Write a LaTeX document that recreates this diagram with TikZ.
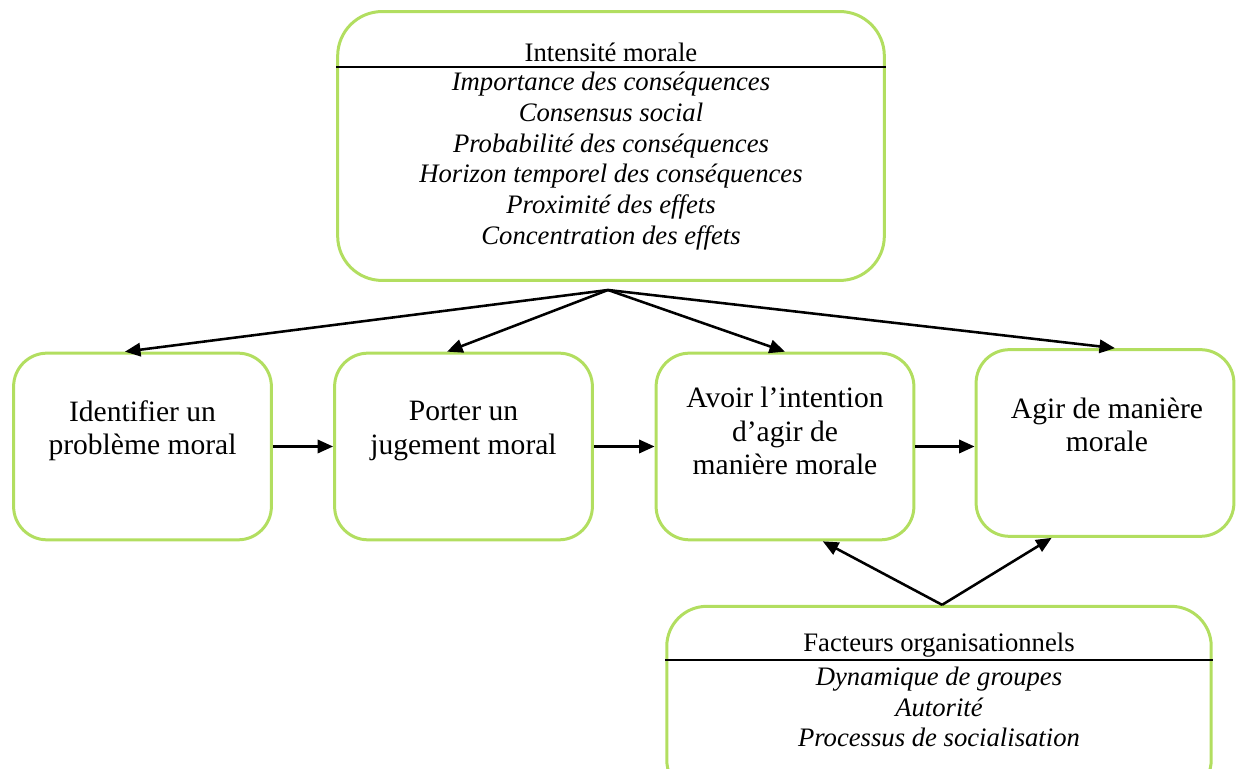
\documentclass[tikz,border=0pt]{standalone}
\usepackage{fontspec}
\setmainfont{Liberation Serif}
\usetikzlibrary{arrows.meta, positioning}
\definecolor{vertclair}{RGB}{178,222,96}

\begin{document}
\begin{tikzpicture}[x=0.45pt, y=-0.45pt, every node/.style={inner sep=0pt, align=center},
            cadre/.style={draw=vertclair, line width=1.35pt, rounded corners=20pt},
            phase/.style={cadre, minimum width=116pt, minimum height=84pt, rounded corners=15pt},
            titre/.style={font=\fontsize{12}{13.8}\selectfont},
            liste/.style={font=\fontsize{12}{13.8}\selectfont\itshape},
            etape/.style={font=\fontsize{13.3}{14.9}\selectfont},
            fleche/.style={-{Triangle[length=7pt, width=6pt]}, line width=1.15pt}]
            \useasboundingbox (0,0) rectangle (1236,769);

            % intensite morale
            \node[cadre, minimum width=246pt, minimum height=121pt] (intens) at (611,146) {};
            \draw[line width=0.6pt] (intens.west |- 0,67) -- (intens.east |- 0,67);
            \node[titre] (intensT) at (611,52) {Intensité morale};
            \node[liste] (intensL) at (611,161) {Importance des conséquences\\Consensus social\\Probabilité des conséquences\\Horizon temporel des conséquences\\Proximité des effets\\Concentration des effets};
            \coordinate (src) at (608,290);

            % les quatre etapes
            \node[phase] (b1) at (142.5,446.5) {};
            \node[phase] (b2) at (463.5,446.5) {};
            \node[phase] (b3) at (785,446.5) {};
            \node[phase] (b4) at (1105,443) {};
            \node[etape] (t1) at (142.5,431) {Identifier un\\problème moral};
            \node[etape] (t2) at (463.5,431) {Porter un\\jugement moral};
            \node[etape] (t3) at (785,431) {Avoir l’intention\\d’agir de\\manière morale};
            \node[etape] (t4) at (1107,425) {Agir de manière\\morale};

            % facteurs organisationnels
            \node[cadre, minimum width=245pt, minimum height=87pt, rounded corners=18pt] (orga) at (939,703) {};
            \draw[line width=0.6pt] (orga.west |- 0,660) -- (orga.east |- 0,660);
            \node[titre] (orgaT) at (939,645) {Facteurs organisationnels};
            \node[liste] (orgaL) at (939,707) {Dynamique de groupes\\Autorité\\Processus de socialisation};

            \foreach \b/\dx in {b1/-7.9pt, b2/-7.4pt, b3/0pt, b4/4.5pt}
                \draw[fleche] (src) -- ([xshift=\dx]\b.north);

            \draw[fleche] (b1.east) -- (b1.east -| b2.west);
            \draw[fleche] (b2.east) -- (b2.east -| b3.west);
            \draw[fleche] (b3.east) -- (b3.east -| b4.west);

            \draw[fleche] ([xshift=1.4pt]orga.north) -- ([xshift=17pt]b3.south);
            \draw[fleche] ([xshift=1.4pt]orga.north) -- ([xshift=-24pt]b4.south);
\end{tikzpicture}
\end{document}
